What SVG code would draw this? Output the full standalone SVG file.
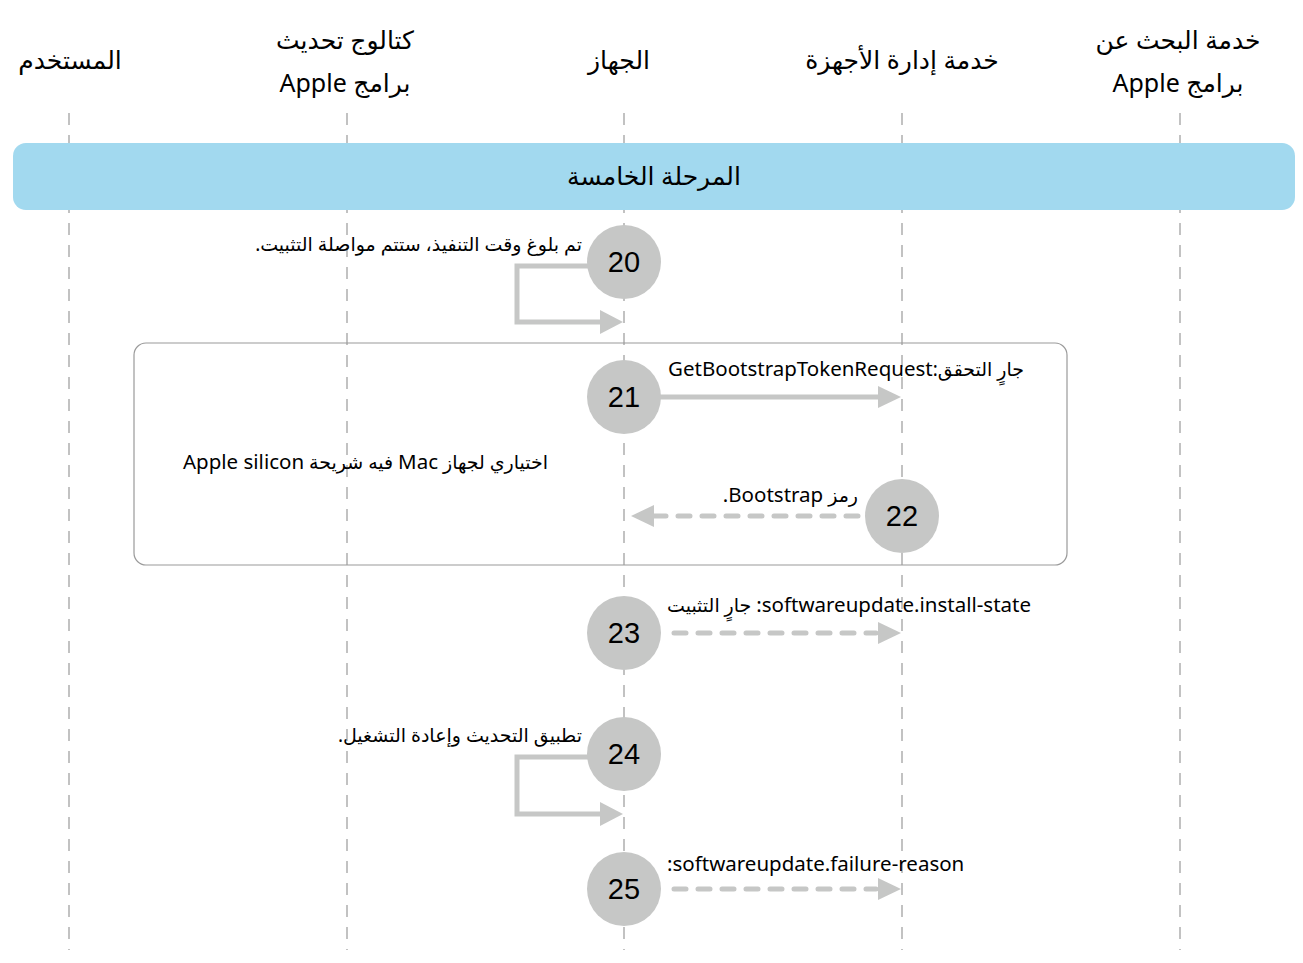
<svg xmlns="http://www.w3.org/2000/svg" width="1303" height="963" viewBox="0 0 1303 963">
<style>
.life{stroke:#9a9a9a;stroke-width:1.2;stroke-dasharray:12 10;fill:none}
.hdr{font-family:"Noto Sans","DejaVu Sans",sans-serif;font-size:25px;fill:#000;text-anchor:middle}
.lbl{font-family:"Noto Sans","DejaVu Sans",sans-serif;font-size:19px;fill:#000}
.lat{font-size:20.5px}
.num{font-family:"Liberation Sans","Noto Sans",sans-serif;font-size:29px;fill:#000;text-anchor:middle}
.circ{fill:#c6c7c6}
.solid{stroke:#c6c7c6;stroke-width:5;fill:none}
.dash{stroke:#c6c7c6;stroke-width:5;fill:none;stroke-dasharray:12 12;stroke-linecap:round}
.head{fill:#c6c7c6}
</style>
<rect width="1303" height="963" fill="#fff"/>
<g id="lifelines">
<line class="life" x1="69" y1="113" x2="69" y2="950"/>
<line class="life" x1="347" y1="113" x2="347" y2="950"/>
<line class="life" x1="624" y1="113" x2="624" y2="950"/>
<line class="life" x1="902" y1="113" x2="902" y2="950"/>
<line class="life" x1="1180" y1="113" x2="1180" y2="950"/>
</g>
<g id="headers">
<text class="hdr" x="70" y="69">المستخدم</text>
<text class="hdr" x="345" y="49">كتالوج تحديث</text>
<text class="hdr" x="345" y="92" direction="rtl">برامج Apple</text>
<text class="hdr" x="619" y="69">الجهاز</text>
<text class="hdr" x="902" y="69">خدمة إدارة الأجهزة</text>
<text class="hdr" x="1178" y="49">خدمة البحث عن</text>
<text class="hdr" x="1178" y="92" direction="rtl">برامج Apple</text>
</g>
<g id="phase">
<rect x="13" y="143" width="1282" height="67" rx="13" fill="#a2d9ef"/>
<text class="hdr" x="654" y="185">المرحلة الخامسة</text>
</g>
<g id="group-box">
<rect x="134" y="343" width="933" height="222" rx="12" fill="none" stroke="#9a9a9a" stroke-width="1.2"/>
<text class="lbl" x="548" y="469" direction="rtl" text-anchor="start">اختياري لجهاز <tspan class="lat">Mac</tspan> فيه شريحة <tspan class="lat">Apple silicon</tspan></text>
</g>
<g id="connectors">
<polyline class="solid" points="590,266 517,266 517,322 602,322"/>
<polygon class="head" points="600,310 623,322 600,334"/>
<line class="solid" x1="660" y1="397" x2="880" y2="397"/>
<polygon class="head" points="878,386 901,397 878,408"/>
<line class="dash" x1="858" y1="516" x2="652" y2="516"/>
<polygon class="head" points="654,505 631,516 654,527"/>
<line class="dash" x1="674" y1="633" x2="876" y2="633"/>
<polygon class="head" points="878,622 901,633 878,644"/>
<polyline class="solid" points="590,757 517,757 517,814 602,814"/>
<polygon class="head" points="600,802 623,814 600,826"/>
<line class="dash" x1="674" y1="889" x2="876" y2="889"/>
<polygon class="head" points="878,878 901,889 878,900"/>
</g>
<g id="step20">
<circle class="circ" cx="624" cy="262" r="37"/>
<text class="num" x="624" y="272">20</text>
<text class="lbl" x="582" y="251" direction="rtl" text-anchor="start">تم بلوغ وقت التنفيذ، ستتم مواصلة التثبيت.</text>
</g>
<g id="step21">
<circle class="circ" cx="624" cy="397" r="37"/>
<text class="num" x="624" y="407">21</text>
<text class="lbl" x="1024" y="376" direction="rtl" text-anchor="start">جارٍ التحقق:<tspan class="lat">GetBootstrapTokenRequest</tspan></text>
</g>
<g id="step22">
<circle class="circ" cx="902" cy="516" r="37"/>
<text class="num" x="902" y="526">22</text>
<text class="lbl" x="858" y="502" direction="rtl" text-anchor="start">رمز <tspan class="lat">Bootstrap.</tspan></text>
</g>
<g id="step23">
<circle class="circ" cx="624" cy="633" r="37"/>
<text class="num" x="624" y="643">23</text>
<text class="lbl" x="667" y="612" direction="ltr">جارٍ التثبيت <tspan class="lat">:softwareupdate.install-state</tspan></text>
</g>
<g id="step24">
<circle class="circ" cx="624" cy="754" r="37"/>
<text class="num" x="624" y="764">24</text>
<text class="lbl" x="582" y="742" direction="rtl" text-anchor="start">تطبيق التحديث وإعادة التشغيل.</text>
</g>
<g id="step25">
<circle class="circ" cx="624" cy="889" r="37"/>
<text class="num" x="624" y="899">25</text>
<text class="lbl lat" x="667" y="871">:softwareupdate.failure-reason</text>
</g>
</svg>
